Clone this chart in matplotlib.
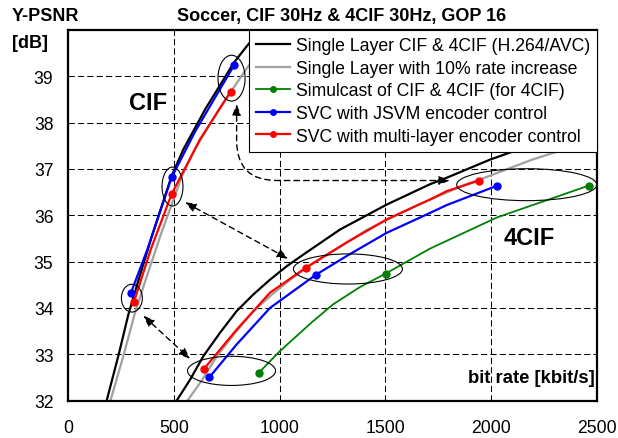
import numpy as np
import matplotlib
matplotlib.use('Agg')
import matplotlib.pyplot as plt
from matplotlib.patches import Ellipse
from matplotlib.lines import Line2D

plt.rcParams['font.family'] = ['Liberation Sans', 'DejaVu Sans']
plt.rcParams['font.size'] = 12

# Data ######################################
# single layer H.264/AVC
sl_cif_rate = [183, 240, 285, 330, 400, 490, 545, 650, 785, 845, 900]
sl_cif_psnr = [32.0, 33.0, 33.85, 34.55, 35.6, 36.85, 37.42, 38.3, 39.3, 39.65, 39.95]
sl_4cif_rate = [514, 577, 640, 718, 797, 876, 955, 1034, 1112, 1285, 1506,
                1711, 1790, 1994, 2105, 2273, 2500]
sl_4cif_psnr = [32.0, 32.45, 32.96, 33.46, 33.93, 34.29, 34.61, 34.90, 35.15,
                35.69, 36.23, 36.67, 36.81, 37.2, 37.38, 37.6, 37.9]

# single layer with 10% rate increase
sl10_cif_rate = [201, 264, 314, 363, 440, 539, 600, 715, 864, 930]
sl10_cif_psnr = [32.0, 33.0, 33.85, 34.55, 35.6, 36.85, 37.42, 38.3, 39.3, 39.65]
sl10_4cif_rate = [565, 635, 704, 790, 877, 964, 1051, 1137, 1223, 1414, 1657,
                  1882, 1969, 2193, 2316, 2500]
sl10_4cif_psnr = [32.0, 32.45, 32.96, 33.46, 33.93, 34.29, 34.61, 34.90, 35.15,
                  35.69, 36.23, 36.67, 36.81, 37.2, 37.38, 37.6]

# simulcast (4CIF)
sim_rate = [902, 1000, 1150, 1254, 1380, 1501, 1711, 2026, 2461]
sim_psnr = [32.60, 33.06, 33.68, 34.08, 34.45, 34.74, 35.28, 35.95, 36.64]
sim_marks = [0, 5, 8]

# SVC, JSVM encoder control
jsvm_cif_rate = [298, 375, 490, 600, 700, 785]
jsvm_cif_psnr = [34.33, 35.26, 36.82, 37.8, 38.58, 39.24]
jsvm_cif_marks = [0, 2, 5]
jsvm_4cif_rate = [668, 797, 955, 1170, 1317, 1506, 1711, 1790, 2029]
jsvm_4cif_psnr = [32.50, 33.21, 34.0, 34.71, 35.12, 35.62, 36.05, 36.22, 36.64]
jsvm_4cif_marks = [0, 3, 8]

# SVC, multi-layer encoder control
ml_cif_rate = [312, 391, 490, 624, 769]
ml_cif_psnr = [34.13, 35.26, 36.46, 37.64, 38.67]
ml_cif_marks = [0, 2, 4]
ml_4cif_rate = [644, 797, 955, 1125, 1317, 1506, 1711, 1790, 1942]
ml_4cif_psnr = [32.69, 33.53, 34.33, 34.87, 35.41, 35.91, 36.34, 36.52, 36.75]
ml_4cif_marks = [0, 3, 8]

labels = ['Single Layer CIF & 4CIF (H.264/AVC)',
          'Single Layer with 10% rate increase',
          'Simulcast of CIF & 4CIF (for 4CIF)',
          'SVC with JSVM encoder control',
          'SVC with multi-layer encoder control']
colors = ['#000000', '#a0a0a0', '#008000', '#0000ff', '#ff0000']

# ellipses: center rate, center psnr, width, height
ell_x = [773, 494, 302, 773, 1323, 2168]
ell_y = [38.96, 36.62, 34.21, 32.64, 34.84, 36.66]
ell_w = [128, 99, 99, 416, 515, 662]
ell_h = [0.99, 0.84, 0.60, 0.63, 0.65, 0.69]

# _plot_command_############################
fig = plt.figure(figsize=(6.18, 4.39), dpi=100, facecolor='w')
ax = fig.add_axes([0.110, 0.0854, 0.856, 0.844])

ax.plot(sl_cif_rate, sl_cif_psnr, color=colors[0], lw=1.6)
ax.plot(sl_4cif_rate, sl_4cif_psnr, color=colors[0], lw=1.6)
ax.plot(sl10_cif_rate, sl10_cif_psnr, color=colors[1], lw=1.6)
ax.plot(sl10_4cif_rate, sl10_4cif_psnr, color=colors[1], lw=1.6)

ax.plot(sim_rate, sim_psnr, color=colors[2], lw=1.3,
        marker='o', ms=5, markevery=sim_marks)
ax.plot(jsvm_cif_rate, jsvm_cif_psnr, color=colors[3], lw=1.6,
        marker='o', ms=5, markevery=jsvm_cif_marks)
ax.plot(jsvm_4cif_rate, jsvm_4cif_psnr, color=colors[3], lw=1.6,
        marker='o', ms=5, markevery=jsvm_4cif_marks)
ax.plot(ml_cif_rate, ml_cif_psnr, color=colors[4], lw=1.6,
        marker='o', ms=5, markevery=ml_cif_marks)
ax.plot(ml_4cif_rate, ml_4cif_psnr, color=colors[4], lw=1.6,
        marker='o', ms=5, markevery=ml_4cif_marks)

for cx, cy, w, h in zip(ell_x, ell_y, ell_w, ell_h):
    ax.add_patch(Ellipse((cx, cy), w, h, fill=False, ec='k', lw=0.8, zorder=5))

arr = dict(arrowstyle='<|-|>,head_length=0.55,head_width=0.22', color='k',
           lw=1.0, linestyle=(0, (4, 3)), shrinkA=0, shrinkB=0)
ax.annotate('', xy=(1805, 36.75), xytext=(797, 38.40),
            arrowprops=dict(arr, connectionstyle='angle,angleA=90,angleB=0,rad=40'))
ax.annotate('', xy=(1041, 35.06), xytext=(553, 36.28), arrowprops=arr)
ax.annotate('', xy=(577, 32.90), xytext=(356, 33.83), arrowprops=arr)

ax.text(378, 38.43, 'CIF', fontsize=17, fontweight='bold', ha='center', va='center')
ax.text(2179, 35.51, '4CIF', fontsize=17, fontweight='bold', ha='center', va='center')
ax.text(0.996, 0.061, 'bit rate [kbit/s]', transform=ax.transAxes,
        fontsize=13.3, fontweight='bold', ha='right', va='center')

ax.set_xlim(0, 2500)
ax.set_ylim(32, 40)
ax.set_xticks(np.arange(0, 2501, 500))
ax.set_yticks(np.arange(32, 40, 1))
ax.tick_params(axis='both', length=0, labelsize=12.7)
ax.tick_params(axis='x', pad=13)
ax.tick_params(axis='y', pad=10.5)
ax.grid(True, color='k', lw=0.75, linestyle=(0, (6, 3)))
ax.set_axisbelow(True)
for s in ax.spines.values():
    s.set_linewidth(1.6)

handles = [Line2D([], [], color=colors[0], lw=1.6),
           Line2D([], [], color=colors[1], lw=1.6),
           Line2D([], [], color=colors[2], lw=1.3, marker='o', ms=4),
           Line2D([], [], color=colors[3], lw=1.6, marker='o', ms=4),
           Line2D([], [], color=colors[4], lw=1.6, marker='o', ms=4)]
leg = ax.legend(handles, labels, loc='upper right', bbox_to_anchor=(1, 1),
                borderaxespad=0, fancybox=False, framealpha=1, edgecolor='k',
                fontsize=12.7, handlelength=1.95, handletextpad=0.3,
                labelspacing=0.32, borderpad=0.4)
leg.get_frame().set_linewidth(0.8)
leg.set_zorder(10)

fig.text(0.019, 0.962, 'Y-PSNR', fontsize=13, fontweight='bold', va='center')
fig.text(0.019, 0.902, '[dB]', fontsize=13, fontweight='bold', va='center')
fig.text(0.5526, 0.962, 'Soccer, CIF 30Hz & 4CIF 30Hz, GOP 16',
         fontsize=13, fontweight='bold', ha='center', va='center')

fig.savefig('out.png', dpi=100)
